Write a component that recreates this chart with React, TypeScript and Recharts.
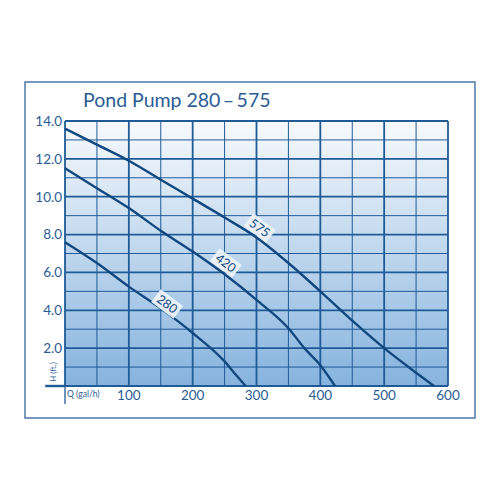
import React from 'react';
import {
  ComposedChart,
  Line,
  XAxis,
  YAxis,
  ReferenceLine,
  ReferenceArea,
  ReferenceDot,
} from 'recharts';

// Pump curves: flow Q (gal/h) and head H (ft.)
const flow575 = [0, 50, 100, 150, 200, 250, 300, 350, 400, 450, 500, 550, 578];
const head575 = [13.6, 12.75, 11.9, 10.9, 9.9, 8.9, 7.85, 6.5, 5.0, 3.45, 2.0, 0.7, 0];

const flow420 = [0, 50, 100, 150, 200, 250, 300, 350, 375, 400, 423];
const head420 = [11.5, 10.45, 9.4, 8.2, 7.1, 5.9, 4.55, 3.05, 2.0, 1.1, 0];

const flow280 = [0, 50, 100, 150, 200, 250, 270, 283];
const head280 = [7.6, 6.5, 5.25, 4.1, 2.8, 1.3, 0.5, 0];

const xTicks = [100, 200, 300, 400, 500, 600];
const yTicks = [2, 4, 6, 8, 10, 12, 14];
const majorX = [0, 100, 200, 300, 400, 500, 600];
const minorX = [50, 150, 250, 350, 450, 550];
const majorY = [0, 2, 4, 6, 8, 10, 12, 14];
const minorY = [1, 3, 5, 7, 9, 11, 13];

const curveNames = ['575', '420', '280'];
const labelFlow = [305, 252, 160];
const labelHead = [8.35, 6.5, 4.33];

const title = 'Pond Pump 280\u2009\u2013\u2009575';

const toData = (qs: number[], hs: number[]) => qs.map((q, i) => ({ q, h: hs[i] }));
const data575 = toData(flow575, head575);
const data420 = toData(flow420, head420);
const data280 = toData(flow280, head280);

const GRID = '#1f5b97';
const CURVE = '#124880';
const TEXT = '#2a5c94';
const FONT = 'Lato, "Open Sans", sans-serif';

const makeLabel = (text: string) => (props: any) => {
  const { cx, cy } = props;
  return (
    <g transform={`translate(${cx},${cy}) rotate(37)`}>
      <rect x={-14} y={-8} width={28} height={16} fill="#eef4fa" fillOpacity={0.92} />
      <text
        x={0}
        y={0}
        dy="0.35em"
        textAnchor="middle"
        fontSize={12.5}
        fontFamily={FONT}
        fill={CURVE}
      >
        {text}
      </text>
    </g>
  );
};

export default function App() {
  return (
    <div style={{ position: 'absolute', left: 0, top: 0, width: 500, height: 500, background: '#fff' }}>
      <svg
        width={500}
        height={500}
        style={{ position: 'absolute', left: 0, top: 0, pointerEvents: 'none' }}
      >
        <rect x={25} y={82} width={450} height={336} fill="none" stroke="#4d79aa" strokeWidth={1.5} />
        <text x={83} y={107} fontSize={19.5} fontFamily={FONT} fill={TEXT}>
          {title}
        </text>
      </svg>
      <div style={{ position: 'absolute', left: 0, top: 0 }}>
        <ComposedChart width={500} height={500} margin={{ top: 121, right: 52, bottom: 84, left: 15 }}>
          <defs>
            <linearGradient id="bgGrad" x1="0" y1="0" x2="0" y2="1">
              <stop offset="0%" stopColor="#f7fafd" />
              <stop offset="100%" stopColor="#86b3de" />
            </linearGradient>
          </defs>
          <XAxis
            type="number"
            dataKey="q"
            domain={[0, 600]}
            ticks={xTicks}
            interval={0}
            tickLine={false}
            axisLine={false}
            tickSize={0}
            tickMargin={4}
            height={30}
            tick={{ fill: TEXT, fontSize: 13.5, fontFamily: FONT }}
          />
          <YAxis
            type="number"
            domain={[0, 14]}
            ticks={yTicks}
            interval={0}
            tickLine={false}
            axisLine={false}
            tickSize={0}
            tickMargin={3}
            width={50}
            tickFormatter={(v: number) => v.toFixed(1)}
            tick={{ fill: TEXT, fontSize: 13.5, fontFamily: FONT }}
          />
          <ReferenceArea x1={0} x2={600} y1={0} y2={14} fill="url(#bgGrad)" fillOpacity={1} stroke="none" />
          {minorX.map((v) => (
            <ReferenceLine key={`mx${v}`} x={v} stroke={GRID} strokeWidth={1} />
          ))}
          {minorY.map((v) => (
            <ReferenceLine key={`my${v}`} y={v} stroke={GRID} strokeWidth={1} />
          ))}
          {majorX.map((v) => (
            <ReferenceLine key={`Mx${v}`} x={v} stroke={GRID} strokeWidth={1.8} />
          ))}
          {majorY.map((v) => (
            <ReferenceLine key={`My${v}`} y={v} stroke={GRID} strokeWidth={1.8} />
          ))}
          <ReferenceLine
            segment={[{ x: -31, y: 0 }, { x: 0, y: 0 }]}
            ifOverflow="visible"
            stroke={GRID}
            strokeWidth={2.4}
          />
          <ReferenceLine
            segment={[{ x: 0, y: 0 }, { x: 0, y: -0.95 }]}
            ifOverflow="visible"
            stroke={GRID}
            strokeWidth={1.3}
          />
          <Line data={data575} dataKey="h" type="monotone" stroke={CURVE} strokeWidth={2.4} dot={false} isAnimationActive={false} />
          <Line data={data420} dataKey="h" type="monotone" stroke={CURVE} strokeWidth={2.4} dot={false} isAnimationActive={false} />
          <Line data={data280} dataKey="h" type="monotone" stroke={CURVE} strokeWidth={2.4} dot={false} isAnimationActive={false} />
          {curveNames.map((name, i) => (
            <ReferenceDot
              key={`lab${name}`}
              x={labelFlow[i]}
              y={labelHead[i]}
              r={0}
              shape={makeLabel(name)}
            />
          ))}
        </ComposedChart>
      </div>
      <svg
        width={500}
        height={500}
        style={{ position: 'absolute', left: 0, top: 0, pointerEvents: 'none' }}
      >
        <text
          transform="translate(56,372) rotate(-90)"
          textAnchor="middle"
          fontSize={8}
          fontFamily={FONT}
          fill={TEXT}
        >
          H (ft.)
        </text>
        <text x={67} y={397} fontSize={8.5} fontFamily={FONT} fill={TEXT}>
          Q (gal/h)
        </text>
      </svg>
    </div>
  );
}
